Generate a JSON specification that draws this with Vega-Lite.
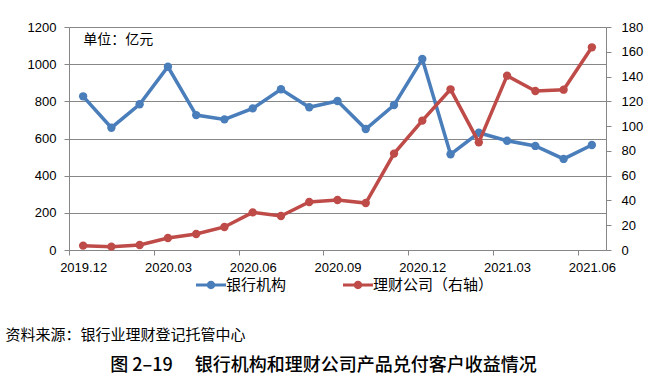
{
  "$schema": "https://vega.github.io/schema/vega-lite/v6.json",
  "width": 537,
  "height": 223,
  "autosize": {"type": "none"},
  "padding": {"left": 69, "top": 27, "right": 47, "bottom": 127},
  "background": "white",
  "config": {
    "view": {"stroke": null},
    "font": "Liberation Sans",
    "axis": {
      "labelFont": "Liberation Sans",
      "labelFontSize": 13,
      "labelColor": "#000000",
      "domainColor": "#868686",
      "tickColor": "#868686",
      "tickSize": 5,
      "gridColor": "#878787",
      "gridWidth": 1
    },
    "legend": {
      "orient": "none",
      "legendX": 127,
      "legendY": 243,
      "direction": "horizontal",
      "title": null,
      "symbolType": "M-1,-0.1L1,-0.1L1,0.1L-1,0.1Z M0.28,0A0.28,0.28 0 1,1 -0.28,0A0.28,0.28 0 1,1 0.28,0Z",
      "symbolSize": 900,
      "symbolStrokeWidth": 0,
      "symbolOpacity": 1,
      "labelFont": "Noto Sans CJK SC",
      "labelFontSize": 15,
      "labelColor": "#000000",
      "labelOffset": 0,
      "columnPadding": 56
    }
  },
  "datasets": {
    "d": [
      {"month": "2019.12", "series": "银行机构", "value": 827},
      {"month": "2020.01", "series": "银行机构", "value": 658},
      {"month": "2020.02", "series": "银行机构", "value": 784},
      {"month": "2020.03", "series": "银行机构", "value": 986},
      {"month": "2020.04", "series": "银行机构", "value": 726},
      {"month": "2020.05", "series": "银行机构", "value": 703},
      {"month": "2020.06", "series": "银行机构", "value": 762},
      {"month": "2020.07", "series": "银行机构", "value": 865},
      {"month": "2020.08", "series": "银行机构", "value": 768},
      {"month": "2020.09", "series": "银行机构", "value": 802},
      {"month": "2020.10", "series": "银行机构", "value": 651},
      {"month": "2020.11", "series": "银行机构", "value": 780},
      {"month": "2020.12", "series": "银行机构", "value": 1028},
      {"month": "2021.01", "series": "银行机构", "value": 515},
      {"month": "2021.02", "series": "银行机构", "value": 631},
      {"month": "2021.03", "series": "银行机构", "value": 588},
      {"month": "2021.04", "series": "银行机构", "value": 560},
      {"month": "2021.05", "series": "银行机构", "value": 490},
      {"month": "2021.06", "series": "银行机构", "value": 565},
      {"month": "2019.12", "series": "理财公司（右轴）", "value": 3.5},
      {"month": "2020.01", "series": "理财公司（右轴）", "value": 2.7},
      {"month": "2020.02", "series": "理财公司（右轴）", "value": 4},
      {"month": "2020.03", "series": "理财公司（右轴）", "value": 9.7},
      {"month": "2020.04", "series": "理财公司（右轴）", "value": 12.9},
      {"month": "2020.05", "series": "理财公司（右轴）", "value": 18.6},
      {"month": "2020.06", "series": "理财公司（右轴）", "value": 30.4},
      {"month": "2020.07", "series": "理财公司（右轴）", "value": 27.4},
      {"month": "2020.08", "series": "理财公司（右轴）", "value": 38.7},
      {"month": "2020.09", "series": "理财公司（右轴）", "value": 40.4},
      {"month": "2020.10", "series": "理财公司（右轴）", "value": 37.9},
      {"month": "2020.11", "series": "理财公司（右轴）", "value": 77.8},
      {"month": "2020.12", "series": "理财公司（右轴）", "value": 104.4},
      {"month": "2021.01", "series": "理财公司（右轴）", "value": 129.7},
      {"month": "2021.02", "series": "理财公司（右轴）", "value": 86.9},
      {"month": "2021.03", "series": "理财公司（右轴）", "value": 140.7},
      {"month": "2021.04", "series": "理财公司（右轴）", "value": 128.3},
      {"month": "2021.05", "series": "理财公司（右轴）", "value": 129.4},
      {"month": "2021.06", "series": "理财公司（右轴）", "value": 163.6}
    ],
    "note": [{"t": "单位：亿元"}]
  },
  "data": {"name": "d"},
  "title": {
    "text": "图 2–19　 银行机构和理财公司产品兑付客户收益情况",
    "orient": "bottom",
    "anchor": "middle",
    "frame": "group",
    "font": "Noto Sans CJK SC",
    "fontSize": 18,
    "fontWeight": 500,
    "color": "#000000",
    "dx": -14,
    "offset": 15
  },
  "encoding": {
    "x": {
      "field": "month",
      "type": "ordinal",
      "sort": null,
      "scale": {"paddingInner": 0, "paddingOuter": 0},
      "axis": {
        "values": ["2019.12", "2020.03", "2020.06", "2020.09", "2020.12", "2021.03", "2021.06"],
        "tickOffset": -14.13,
        "labelOffset": 14.13,
        "labelAngle": 0,
        "labelPadding": 6,
        "grid": false,
        "title": "资料来源：银行业理财登记托管中心",
        "titleFont": "Noto Sans CJK SC",
        "titleFontSize": 15,
        "titleFontWeight": "normal",
        "titleColor": "#000000",
        "titleAlign": "left",
        "titleBaseline": "middle",
        "titleX": -64,
        "titleY": 84
      }
    }
  },
  "layer": [
    {
      "layer": [
        {
          "transform": [{"filter": "datum.series === '银行机构'"}],
          "mark": {"type": "line", "strokeWidth": 3.5},
          "encoding": {
            "y": {"field": "value", "type": "quantitative"},
            "color": {
              "field": "series",
              "type": "nominal",
              "scale": {"domain": ["银行机构", "理财公司（右轴）"], "range": ["#4A7EBB", "#BE4B48"]},
              "legend": {
                "encode": {"symbols": {"update": {"fill": {"scale": "color", "field": "value"}, "strokeWidth": {"value": 0}}}}
              }
            }
          }
        },
        {
          "transform": [{"filter": "datum.series === '银行机构'"}],
          "mark": {"type": "circle", "size": 70, "opacity": 1},
          "encoding": {
            "y": {"field": "value", "type": "quantitative"},
            "color": {"field": "series", "type": "nominal"}
          }
        },
        {
          "data": {"name": "note"},
          "mark": {"type": "text", "align": "left", "baseline": "middle", "font": "Noto Sans CJK SC", "fontSize": 14, "color": "#000000"},
          "encoding": {
            "x": {"datum": "2019.12"},
            "y": {"datum": 1130},
            "text": {"field": "t"}
          }
        }
      ],
      "encoding": {
        "y": {
          "type": "quantitative",
          "scale": {"domain": [0, 1200]},
          "axis": {
            "orient": "left",
            "values": [0, 200, 400, 600, 800, 1000, 1200],
            "format": "d",
            "grid": true,
            "labelPadding": 8,
            "title": null
          }
        }
      }
    },
    {
      "layer": [
        {
          "mark": {"type": "line", "strokeWidth": 3.5},
          "encoding": {"color": {"field": "series", "type": "nominal"}}
        },
        {
          "mark": {"type": "circle", "size": 70, "opacity": 1},
          "encoding": {"color": {"field": "series", "type": "nominal"}}
        }
      ],
      "transform": [{"filter": "datum.series === '理财公司（右轴）'"}],
      "encoding": {
        "y": {
          "field": "value",
          "type": "quantitative",
          "scale": {"domain": [0, 180]},
          "axis": {
            "orient": "right",
            "values": [0, 20, 40, 60, 80, 100, 120, 140, 160, 180],
            "grid": false,
            "labelPadding": 10,
            "title": null
          }
        }
      }
    }
  ],
  "resolve": {"scale": {"y": "independent"}}
}
